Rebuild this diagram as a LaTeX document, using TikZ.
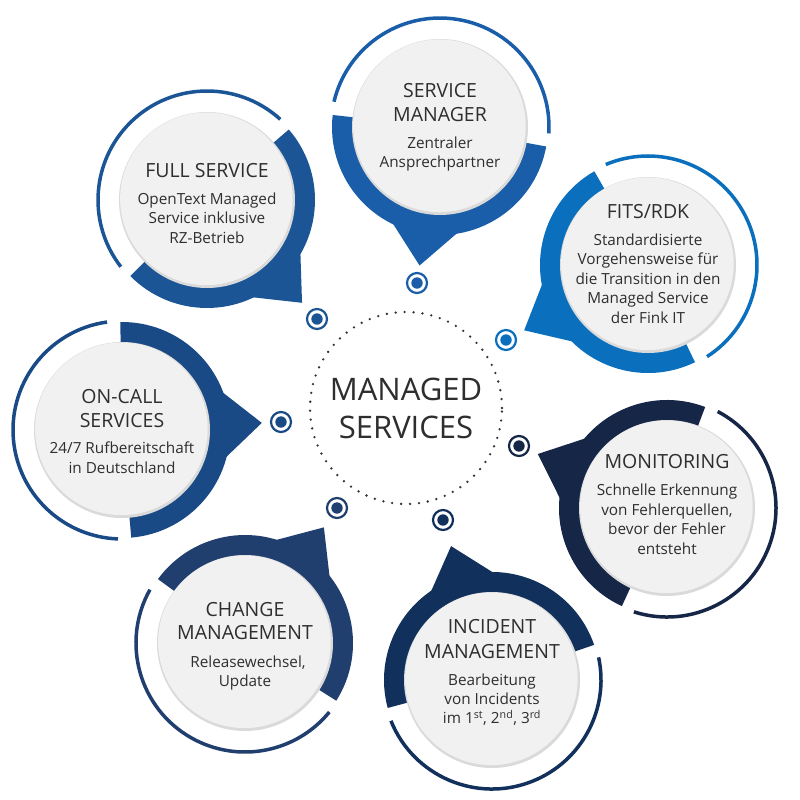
\documentclass[tikz,border=0pt]{standalone}
\usepackage{fontspec}
\setmainfont{Open Sans}
\usetikzlibrary{calc}

\definecolor{csm}{HTML}{1A5EA9}
\definecolor{cfits}{HTML}{0A70BE}
\definecolor{cfs}{HTML}{1C5596}
\definecolor{coc}{HTML}{1A4A86}
\definecolor{ccm}{HTML}{213F6E}
\definecolor{cim}{HTML}{12305C}
\definecolor{cmo}{HTML}{152647}
\definecolor{txtcol}{HTML}{2E2E2E}
\definecolor{discfill}{HTML}{F1F1F1}
\definecolor{discrim}{HTML}{DADADA}
\definecolor{dotcol}{HTML}{333333}

% one bubble: #1 centre coordinate, #2 direction of the pointer, #3 colour
\newcommand\drawbubble[3]{%
  \begin{scope}[shift={(#1)}]
    % thick band around the half facing the pointer
    \fill[#3] ({#2-88}:108) arc[start angle={#2-88}, end angle={#2+88}, radius=108]
      -- ({#2+88}:70) arc[start angle={#2+88}, end angle={#2-88}, radius=70] -- cycle;
    % pointer
    \fill[#3] ({#2}:140) -- ({#2+25.5}:100) -- ({#2-25.5}:100) -- cycle;
    % thin outer arc on the opposite side
    \draw[#3, line width=3.5] ({#2+95}:109) arc[start angle={#2+95}, end angle={#2+265}, radius=109];
    % grey disc with a soft rim
    \fill[discrim] (0,0) circle[radius=88];
    \fill[discfill] (-0.6,1.2) circle[radius=86.3];
  \end{scope}}

% small target marker: #1 coordinate, #2 colour
\newcommand\drawmarker[2]{%
  \draw[#2, line width=2.2] (#1) circle[radius=10];
  \fill[#2] (#1) circle[radius=5.7];}

\tikzset{
  ttl/.style={anchor=base, inner sep=0, text=txtcol, font=\fontsize{19.5}{24}\selectfont},
  bdy/.style={anchor=base, inner sep=0, text=txtcol, font=\fontsize{15.3}{19.5}\selectfont},
  coretxt/.style={anchor=base, inner sep=0, text=txtcol, font=\fontsize{31}{38}\selectfont},
  dotring/.style={dotcol, line width=2.6, line cap=round, dash pattern=on 0pt off 8.95pt},
}

\begin{document}
\begin{tikzpicture}[x=1pt, y=1pt]
\useasboundingbox (0,0) rectangle (800,-800);
\fill[white] (0,0) rectangle (800,-800);

% bubble centres
\coordinate (sm)   at (440,-127);
\coordinate (fits) at (648,-265);
\coordinate (mo)   at (667,-508);
\coordinate (im)   at (492,-680);
\coordinate (cm)   at (245,-643);
\coordinate (oc)   at (122,-430);
\coordinate (fs)   at (207,-200);

% markers around the core
\coordinate (msm)   at (417,-283);
\coordinate (mfits) at (506,-340);
\coordinate (mmo)   at (519,-446);
\coordinate (mim)   at (443,-520);
\coordinate (mcm)   at (337,-508);
\coordinate (moc)   at (281,-422);
\coordinate (mfs)   at (317,-319);

\drawbubble{sm}{261.6}{csm}
\drawbubble{fits}{207.8}{cfits}
\drawbubble{mo}{157.3}{cmo}
\drawbubble{im}{107.0}{cim}
\drawbubble{cm}{55.7}{ccm}
\drawbubble{oc}{2.9}{coc}
\drawbubble{fs}{312.75}{cfs}

\drawmarker{msm}{csm}
\drawmarker{mfits}{cfits}
\drawmarker{mmo}{cmo}
\drawmarker{mim}{cim}
\drawmarker{mcm}{ccm}
\drawmarker{moc}{coc}
\drawmarker{mfs}{cfs}

% core
\coordinate (core) at (406,-408);
\draw[dotring] (core) circle[radius=96];
\node[coretxt] (core-1) at (406,-400) {MANAGED};
\node[coretxt] (core-2) at (406,-438) {SERVICES};

% texts
\begin{scope}[shift={(sm)}]
  \node[ttl] (sm-1) at (0,30) {SERVICE};
  \node[ttl] (sm-2) at (0,6) {MANAGER};
  \node[bdy] (sm-3) at (0,-21) {Zentraler};
  \node[bdy] (sm-4) at (0,-40) {Ansprechpartner};
\end{scope}

\begin{scope}[shift={(fs)}]
  \node[ttl] (fs-1) at (0,23) {FULL SERVICE};
  \node[bdy] (fs-2) at (0,-4) {OpenText Managed};
  \node[bdy] (fs-3) at (0,-23.5) {Service inklusive};
  \node[bdy] (fs-4) at (0,-43) {RZ-Betrieb};
\end{scope}

\begin{scope}[shift={(fits)}]
  \node[ttl] (fits-1) at (0,47) {FITS/RDK};
  \node[bdy] (fits-2) at (0,20) {Standardisierte};
  \node[bdy] (fits-3) at (0,0.5) {Vorgehensweise für};
  \node[bdy] (fits-4) at (0,-19) {die Transition in den};
  \node[bdy] (fits-5) at (0,-38.5) {Managed Service};
  \node[bdy] (fits-6) at (0,-58) {der Fink IT};
\end{scope}

\begin{scope}[shift={(oc)}]
  \node[ttl] (oc-1) at (0,27) {ON-CALL};
  \node[ttl] (oc-2) at (0,3) {SERVICES};
  \node[bdy] (oc-3) at (0,-23.5) {24/7 Rufbereitschaft};
  \node[bdy] (oc-4) at (0,-43) {in Deutschland};
\end{scope}

\begin{scope}[shift={(mo)}]
  \node[ttl] (mo-1) at (0,40) {MONITORING};
  \node[bdy] (mo-2) at (0,13) {Schnelle Erkennung};
  \node[bdy] (mo-3) at (0,-7) {von Fehlerquellen,};
  \node[bdy] (mo-4) at (0,-26.5) {bevor der Fehler};
  \node[bdy] (mo-5) at (0,-46) {entsteht};
\end{scope}

\begin{scope}[shift={(im)}]
  \node[ttl] (im-1) at (0,47) {INCIDENT};
  \node[ttl] (im-2) at (0,22) {MANAGEMENT};
  \node[bdy] (im-3) at (0,-5) {Bearbeitung};
  \node[bdy] (im-4) at (0,-24.5) {von Incidents};
  \node[bdy] (im-5) at (0,-43.5) {im 1\textsuperscript{st}, 2\textsuperscript{nd}, 3\textsuperscript{rd}};
\end{scope}

\begin{scope}[shift={(cm)}]
  \node[ttl] (cm-1) at (0,27) {CHANGE};
  \node[ttl] (cm-2) at (0,4) {MANAGEMENT};
  \node[bdy] (cm-3) at (3,-24) {Releasewechsel,};
  \node[bdy] (cm-4) at (0,-43.5) {Update};
\end{scope}

\end{tikzpicture}
\end{document}
